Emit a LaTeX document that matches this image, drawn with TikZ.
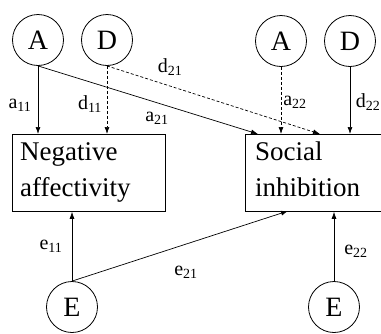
\documentclass[tikz,border=0pt]{standalone}
\usepackage{fontspec}
\setmainfont{Liberation Serif}
\usetikzlibrary{arrows.meta}
\begin{document}
\begin{tikzpicture}[x=1pt,y=-1pt,
  latent/.style={circle,draw,line width=0.8pt,minimum size=51pt,inner sep=0pt,font=\fontsize{28}{30}\selectfont},
  obsbox/.style={draw,line width=0.8pt,anchor=north west,inner sep=0pt},
  boxtext/.style={anchor=base west,align=left,inner sep=0pt,font=\fontsize{27}{36}\selectfont},
  path/.style={line width=0.7pt,-{Latex[length=7pt,width=5pt]}},
  dpath/.style={path,dash pattern=on 3pt off 2pt},
  lab/.style={font=\fontsize{20}{22}\selectfont,inner sep=0pt}
]
\useasboundingbox (0,0) rectangle (381,333);
% latent variables
\node[latent] (A1) at (38,40) {A};
\node[latent] (D1) at (107,40) {D};
\node[latent] (A2) at (281,41) {A};
\node[latent] (D2) at (350,41) {D};
\node[latent] (E1) at (72,307) {E};
\node[latent] (E2) at (334,307) {E};
% boxes
\node[obsbox,minimum width=153pt,minimum height=77pt] (NA) at (12,134) {};
\node[obsbox,minimum width=150pt,minimum height=77pt] (SI) at (245,134) {};
\node[boxtext] (NAt) at (20,196) {Negative\\affectivity};
\node[boxtext] (SIt) at (255,196) {Social\\inhibition};
% target points
\coordinate (SItA1) at (258,134);
\coordinate (SItD1) at (320,134);
\coordinate (SIbE1) at (288,211);
% paths
\draw[path] (A1.south) -- (A1.south |- NA.north);
\draw[dpath] (D1.south) -- (D1.south |- NA.north);
\draw[path] (A1.south) -- (SItA1);
\draw[dpath] (D1.south) -- (SItD1);
\draw[dpath] (A2.south) -- (A2.south |- SI.north);
\draw[path] (D2.south) -- (D2.south |- SI.north);
\draw[path] (E1.north) -- (E1.north |- NA.south);
\draw[path] (E1.north) -- (SIbE1);
\draw[path] (E2.north) -- (E2.north |- SI.south);
% labels
\node[lab] (la11) at (20,105) {a\textsubscript{11}};
\node[lab] (ld11) at (90,104) {d\textsubscript{11}};
\node[lab] (la21) at (157,118) {a\textsubscript{21}};
\node[lab] (ld21) at (170,67) {d\textsubscript{21}};
\node[lab] (la22) at (295,102) {a\textsubscript{22}};
\node[lab] (ld22) at (368,102) {d\textsubscript{22}};
\node[lab] (le11) at (51,246) {e\textsubscript{11}};
\node[lab] (le21) at (186,272) {e\textsubscript{21}};
\node[lab] (le22) at (356,251) {e\textsubscript{22}};
\end{tikzpicture}
\end{document}
